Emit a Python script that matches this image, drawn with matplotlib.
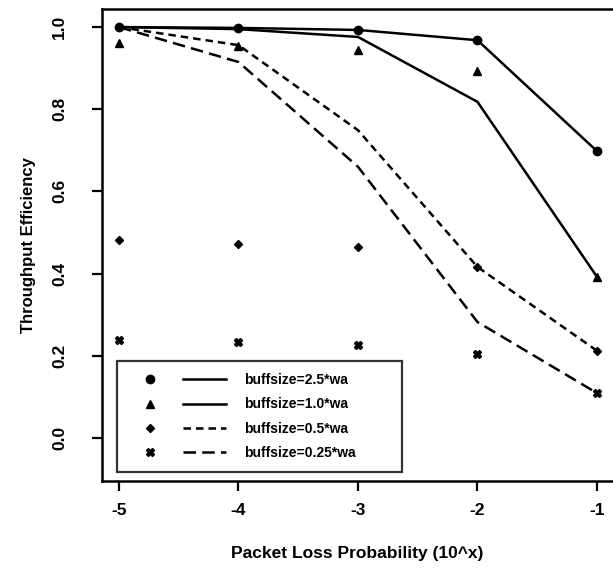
import numpy as np
import matplotlib.pyplot as plt
from matplotlib.lines import Line2D
from matplotlib.legend_handler import HandlerTuple

plt.rcParams['font.family'] = ['Liberation Sans', 'DejaVu Sans']
plt.rcParams['font.weight'] = 'bold'

x = [-5, -4, -3, -2, -1]

# line curves
line_25 = [1.0, 0.998, 0.993, 0.968, 0.698]
line_10 = [1.0, 0.995, 0.976, 0.818, 0.392]
line_05 = [1.0, 0.956, 0.749, 0.416, 0.212]
line_025 = [1.0, 0.915, 0.66, 0.282, 0.109]

# marker points
pts_25 = [1.0, 0.998, 0.993, 0.968, 0.698]
pts_10 = [0.961, 0.955, 0.944, 0.893, 0.392]
pts_05 = [0.482, 0.472, 0.465, 0.416, 0.212]
pts_025 = [0.238, 0.234, 0.226, 0.204, 0.109]

labels = ['buffsize=2.5*wa', 'buffsize=1.0*wa', 'buffsize=0.5*wa', 'buffsize=0.25*wa']

fig = plt.figure(figsize=(6.13, 5.73), dpi=100)
ax = fig.add_axes([102/613, 1-481/573, 1-102/613, (481-9)/573])

lw = 1.8
styles = ['-', '-', (0, (3, 2)), (0, (5, 2.5))]
markers = ['o', '^', 'D', 'X']
msizes = [6, 6, 4.5, 6]
lines = [line_25, line_10, line_05, line_025]
pts = [pts_25, pts_10, pts_05, pts_025]

handles = []
for ln, pt, ls, mk, ms in zip(lines, pts, styles, markers, msizes):
    ax.plot(x, ln, color='black', lw=lw, linestyle=ls)
    ax.plot(x, pt, color='black', linestyle='none', marker=mk, markersize=ms)
    h_m = Line2D([], [], color='black', linestyle='none', marker=mk, markersize=ms)
    h_l = Line2D([], [], color='black', lw=lw, linestyle=ls)
    handles.append((h_m, h_l))

ax.set_xlim(-5.142, -0.866)
ax.set_ylim(-0.105, 1.044)
ax.set_xticks(x)
ax.set_xticklabels([str(v) for v in x])
ax.set_yticks([0.0, 0.2, 0.4, 0.6, 0.8, 1.0])
ax.set_yticklabels(['0.0', '0.2', '0.4', '0.6', '0.8', '1.0'], rotation=90, va='center')
ax.tick_params(direction='out', length=7, width=1.6, labelsize=12.5)
ax.tick_params(axis='x', pad=9)
ax.tick_params(axis='y', pad=18)
for s in ax.spines.values():
    s.set_linewidth(1.8)
ax.spines['right'].set_visible(False)

ax.set_xlabel('Packet Loss Probability (10^x)', fontsize=12.5, fontweight='bold', labelpad=20)
ax.set_ylabel('Throughput Efficiency', fontsize=12, fontweight='bold', labelpad=12)

leg = ax.legend(handles, labels, handler_map={tuple: HandlerTuple(ndivide=None, pad=0.8)},
                loc='lower left', bbox_to_anchor=(0.029, 0.019, 0.558, 0.24), mode='expand',
                handlelength=7.0, fontsize=10, frameon=True, fancybox=False, borderpad=0.85,
                labelspacing=0.75, handletextpad=1.3, borderaxespad=0)
leg.get_frame().set_edgecolor('black')
leg.get_frame().set_linewidth(1.6)

fig.savefig('out.png', dpi=100)
